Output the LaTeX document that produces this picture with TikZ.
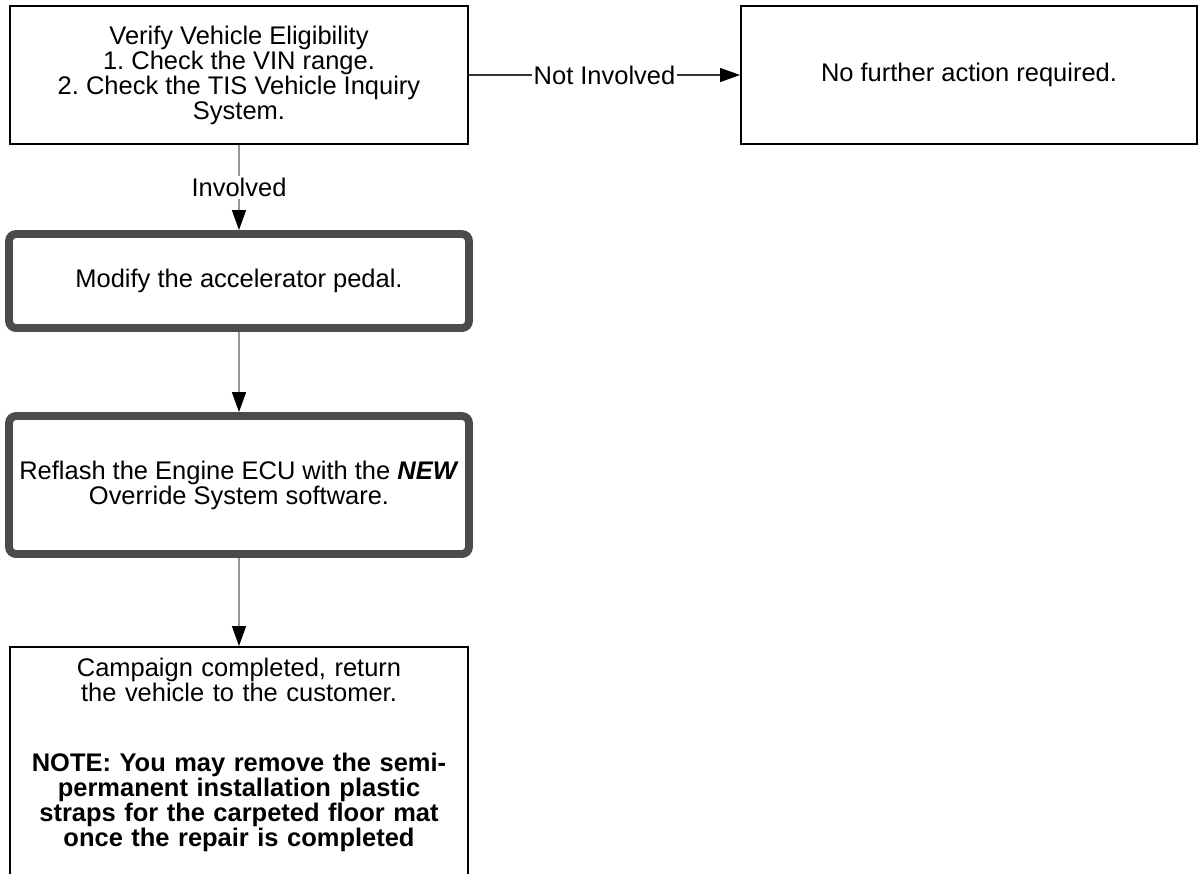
\documentclass[tikz,border=0pt]{standalone}
\usepackage{fontspec}
\setmainfont{Liberation Sans}
\definecolor{framegray}{RGB}{75,75,75}
\definecolor{linkgray}{RGB}{150,150,150}
\usetikzlibrary{arrows.meta,positioning}

\begin{document}
\begin{tikzpicture}[x=0.02cm,y=-0.02cm,
  every node/.style={font=\fontsize{14.5}{14.2}\selectfont\frenchspacing},
  plainbox/.style={draw,line width=1.1pt,align=center,inner sep=0pt,minimum width=9.16cm},
  workbox/.style={draw=framegray,line width=4.5pt,rounded corners=4pt,align=center,inner sep=0pt,minimum width=9.2cm},
  link/.style={linkgray,line width=0.8pt,-{Triangle[length=0.4cm,width=0.28cm,color=black]}},
  tag/.style={fill=white,text=black,inner sep=1pt}]
\useasboundingbox (0,0) rectangle (1199,873);
\node[plainbox,minimum height=2.76cm] (verify) at (239,75) {Verify Vehicle Eligibility\\ 1. Check the VIN range.\\ 2. Check the TIS Vehicle Inquiry\\ System.};
\node[plainbox,minimum width=9.12cm,minimum height=2.76cm] (nofurther) at (969,75) {No further action required.};
\node[workbox,minimum height=1.88cm] (modify) at (239,281) {Modify the accelerator pedal.};
\node[workbox,minimum height=2.76cm] (reflash) at (239,485) {Reflash the Engine ECU with the \textbf{\textit{NEW}}\\ Override System software.};
\node[plainbox,anchor=north,text width=8.8cm,inner ysep=0.22cm,text depth=4.5cm] (done) at (239,646) {Campaign completed, return\\ the vehicle to the customer.\\[0.9cm]
  {\bfseries NOTE: You may remove the semi-\\ permanent installation plastic\\ straps for the carpeted floor mat\\ once the repair is completed}};
\draw[link] (verify) -- node[tag] {Involved} (modify);
\draw[link,black!80,line width=0.6pt] (verify) -- node[tag] {Not Involved} (nofurther);
\draw[link] (modify) -- (reflash);
\draw[link] (reflash) -- (done);
\end{tikzpicture}
\end{document}
